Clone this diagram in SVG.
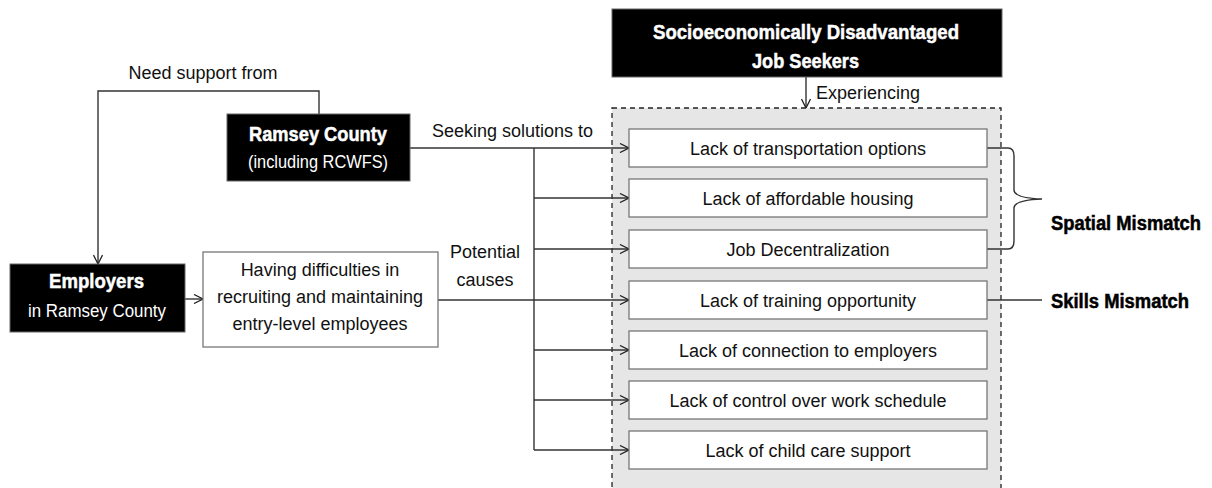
<svg xmlns="http://www.w3.org/2000/svg" width="1212" height="488" viewBox="0 0 1212 488">
  <defs>
    <marker id="arr" viewBox="0 0 10 10" refX="10" refY="5" markerWidth="10" markerHeight="10" markerUnits="userSpaceOnUse" orient="auto">
      <path d="M1,0.5 L10,5 L1,9.5" fill="none" stroke="#222" stroke-width="1.3"/>
    </marker>
    <style>
      text { font-family: "Liberation Sans", Arial, sans-serif; fill: #111; }
      .t { font-size: 18px; }
      .b { font-size: 21px; font-weight: bold; fill: #fff; stroke: #fff; stroke-width: 0.5; }
      .bk { font-size: 20px; font-weight: bold; fill: #000; stroke: #000; stroke-width: 0.5; }
      .w { font-size: 18px; fill: #fff; }
      .dark { fill: #000; stroke: #666; stroke-width: 1; }
      .box { fill: #fff; stroke: #777; stroke-width: 1.3; }
      .ln { fill: none; stroke: #333; stroke-width: 1.4; }
    </style>
  </defs>

  <!-- problem area panel -->
  <g id="panel">
    <rect x="612" y="108" width="389" height="390" fill="#e6e6e6" stroke="#222" stroke-width="1.3" stroke-dasharray="5,4"/>
  </g>

  <!-- connectors -->
  <g id="connectors">
    <polyline class="ln" points="319,114 319,91 98,91 98,264" marker-end="url(#arr)"/>
    <line class="ln" x1="185" y1="299" x2="203" y2="299" marker-end="url(#arr)"/>
    <line class="ln" x1="806" y1="77" x2="806" y2="108" marker-end="url(#arr)"/>
    <line class="ln" x1="410" y1="148" x2="534" y2="148"/>
    <line class="ln" x1="438" y1="300" x2="534" y2="300"/>
    <line class="ln" x1="534" y1="148" x2="534" y2="450"/>
    <line class="ln" x1="534" y1="148" x2="629" y2="148" marker-end="url(#arr)"/>
    <line class="ln" x1="534" y1="198" x2="629" y2="198" marker-end="url(#arr)"/>
    <line class="ln" x1="534" y1="249" x2="629" y2="249" marker-end="url(#arr)"/>
    <line class="ln" x1="534" y1="300" x2="629" y2="300" marker-end="url(#arr)"/>
    <line class="ln" x1="534" y1="350" x2="629" y2="350" marker-end="url(#arr)"/>
    <line class="ln" x1="534" y1="400" x2="629" y2="400" marker-end="url(#arr)"/>
    <line class="ln" x1="534" y1="450" x2="629" y2="450" marker-end="url(#arr)"/>
    <!-- spatial mismatch brace -->
    <path class="ln" d="M987,148 L1008,148 Q1014,148 1014,156 L1014,190 Q1014,198 1042,199 Q1014,200 1014,208 L1014,241 Q1014,249 1008,249 L987,249"/>
    <line class="ln" x1="987" y1="300" x2="1042" y2="300"/>
    <text class="t" x="203" y="79" text-anchor="middle">Need support from</text>
    <text class="t" x="432" y="137">Seeking solutions to</text>
    <text class="t" x="816" y="99">Experiencing</text>
    <text class="t" x="485" y="258" text-anchor="middle">Potential</text>
    <text class="t" x="485" y="286" text-anchor="middle">causes</text>
  </g>

  <g id="job-seekers">
    <rect class="dark" x="612" y="9" width="390" height="68"/>
    <text class="b" x="653" y="39" textLength="306" lengthAdjust="spacingAndGlyphs">Socioeconomically Disadvantaged</text>
    <text class="b" x="752" y="68" textLength="107" lengthAdjust="spacingAndGlyphs">Job Seekers</text>
  </g>

  <g id="ramsey">
    <rect class="dark" x="227" y="114" width="183" height="67"/>
    <text class="b" x="249" y="141" textLength="138" lengthAdjust="spacingAndGlyphs">Ramsey County</text>
    <text class="w" x="248" y="168" textLength="140" lengthAdjust="spacingAndGlyphs">(including RCWFS)</text>
  </g>

  <g id="employers">
    <rect class="dark" x="10" y="264" width="175" height="68"/>
    <text class="b" x="49" y="288" textLength="95" lengthAdjust="spacingAndGlyphs">Employers</text>
    <text class="w" x="28" y="317" textLength="138" lengthAdjust="spacingAndGlyphs">in Ramsey County</text>
  </g>

  <g id="difficulties">
    <rect class="box" x="203" y="252" width="235" height="95"/>
    <text class="t" x="320" y="276" text-anchor="middle">Having difficulties in</text>
    <text class="t" x="320" y="303" text-anchor="middle">recruiting and maintaining</text>
    <text class="t" x="320" y="330" text-anchor="middle">entry-level employees</text>
  </g>

  <g id="transportation">
    <rect class="box" x="629" y="129" width="358" height="38"/>
    <text class="t" x="808" y="155" text-anchor="middle">Lack of transportation options</text>
  </g>
  <g id="housing">
    <rect class="box" x="629" y="179" width="358" height="38"/>
    <text class="t" x="808" y="205" text-anchor="middle">Lack of affordable housing</text>
  </g>
  <g id="decentralization">
    <rect class="box" x="629" y="230" width="358" height="38"/>
    <text class="t" x="808" y="256" text-anchor="middle">Job Decentralization</text>
  </g>
  <g id="training">
    <rect class="box" x="629" y="281" width="358" height="38"/>
    <text class="t" x="808" y="307" text-anchor="middle">Lack of training opportunity</text>
  </g>
  <g id="connection">
    <rect class="box" x="629" y="331" width="358" height="38"/>
    <text class="t" x="808" y="357" text-anchor="middle">Lack of connection to employers</text>
  </g>
  <g id="schedule">
    <rect class="box" x="629" y="381" width="358" height="38"/>
    <text class="t" x="808" y="407" text-anchor="middle">Lack of control over work schedule</text>
  </g>
  <g id="childcare">
    <rect class="box" x="629" y="431" width="358" height="38"/>
    <text class="t" x="808" y="457" text-anchor="middle">Lack of child care support</text>
  </g>

  <g id="spatial-mismatch">
    <text class="bk" x="1051" y="230" textLength="150" lengthAdjust="spacingAndGlyphs">Spatial Mismatch</text>
  </g>
  <g id="skills-mismatch">
    <text class="bk" x="1051" y="308" textLength="138" lengthAdjust="spacingAndGlyphs">Skills Mismatch</text>
  </g>
</svg>
